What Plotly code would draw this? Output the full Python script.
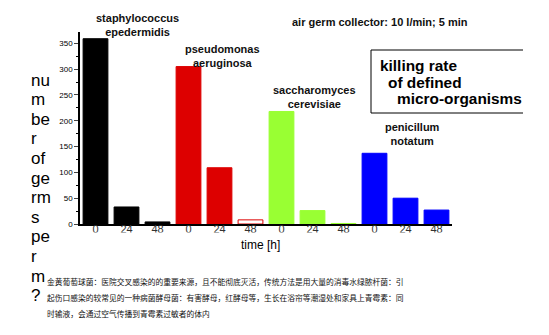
import plotly.graph_objects as go

organisms = ["staphylococcus<br>epedermidis", "pseudomonas<br>aeruginosa",
             "saccharomyces<br>cerevisiae", "penicillum<br>notatum"]
times = ["0", "24", "48"]
staph = [359, 33, 4]
pseudo = [305, 109, 8]
sacch = [218, 26, 1]
penic = [137, 50, 27]
group_colors = ["#000000", "#dd0000", "#99ff33", "#0000ff"]

series = [staph, pseudo, sacch, penic]
xs, ys, fills, lines, labels = [], [], [], [], []
k = 0
for gi, vals in enumerate(series):
    for ti, v in enumerate(vals):
        xs.append(k)
        ys.append(v)
        labels.append(times[ti])
        c = group_colors[gi]
        fills.append("#ffffff" if (gi == 1 and ti == 2) else c)
        lines.append(c)
        k += 1

fig = go.Figure()
fig.add_trace(go.Bar(x=xs, y=ys, marker=dict(color=fills, line=dict(color=lines, width=1)),
                     width=0.8, showlegend=False))

font = "Liberation Sans, Arial, sans-serif"
L, R, T, B = 80, 452, 32, 224
fig.update_layout(
    width=549, height=335, margin=dict(l=L, r=549 - R, t=T, b=335 - B),
    plot_bgcolor="white", paper_bgcolor="white",
    font=dict(family=font, color="#000"),
    xaxis=dict(range=[-0.5, 11.5], tickvals=xs, ticktext=labels, showline=True,
               linecolor="#000", linewidth=1.5, ticks="", showgrid=False, zeroline=False,
               tickfont=dict(size=11, color="#333"), ticklabelstandoff=-6, fixedrange=True),
    yaxis=dict(range=[0, 372], tickvals=[0, 50, 100, 150, 200, 250, 300, 350], showline=True,
               linecolor="#000", linewidth=1.5, ticks="outside", ticklen=4, tickwidth=1,
               showgrid=False, zeroline=False,
               tickfont=dict(size=8, color="#000", family="Arial Black, Liberation Sans, sans-serif"),
               minor=dict(tickvals=[25, 75, 125, 175, 225, 275, 325, 375], ticks="outside",
                          ticklen=2, tickcolor="#000"),
               fixedrange=True),
)


def px(xp, yp):
    return dict(x=(xp - L) / (R - L), y=1 - (yp - T) / (B - T), xref="paper", yref="paper")


ann = []
org_pos = [(137, 24.5), (222, 56.5), (314, 97), (412, 134)]
for (xp, yp), name in zip(org_pos, organisms):
    a = dict(text="<b>" + name + "</b>", showarrow=False, xanchor="center", yanchor="middle",
             font=dict(size=11, family=font, color="#111"), align="center")
    a.update(px(xp, yp))
    ann.append(a)

a = dict(text="<b>air germ collector: 10 l/min; 5 min</b>", showarrow=False, xanchor="left",
         yanchor="middle", font=dict(size=11, family=font, color="#111"))
a.update(px(290, 22))
ann.append(a)

box_lines = [("killing rate", 378, 65), ("of defined", 386, 82), ("micro-organisms", 395, 99)]
for t, xp, yp in box_lines:
    a = dict(text="<b>" + t + "</b>", showarrow=False, xanchor="left", yanchor="middle",
             font=dict(size=15.4, family=font, color="#000"))
    a.update(px(xp, yp))
    ann.append(a)

a = dict(text="time [h]", showarrow=False, xanchor="center", yanchor="middle",
         font=dict(size=12, family=font, color="#000"))
a.update(px(260, 245))
ann.append(a)

ylab = ["nu", "m", "be", "r", "of", "ge", "rm", "s", "pe", "r", "m", "?"]
for i, t in enumerate(ylab):
    a = dict(text=t, showarrow=False, xanchor="left", yanchor="middle",
             font=dict(size=17, family=font, color="#000"))
    a.update(px(29, 80 + i * 19.6))
    ann.append(a)

cn = ["金黄葡萄球菌：医院交叉感染的的重要来源，且不能彻底灭活，传统方法是用大量的消毒水绿脓杆菌：引",
      "起伤口感染的较常见的一种病菌酵母菌：有害酵母，红酵母等，生长在浴帘等潮湿处和家具上青霉素：同",
      "时输液，会通过空气传播到青霉素过敏者的体内"]
for i, t in enumerate(cn):
    a = dict(text=t, showarrow=False, xanchor="left", yanchor="middle",
             font=dict(size=7.75, family="Noto Sans CJK SC", color="#111"))
    a.update(px(45, 281 + i * 16))
    ann.append(a)

fig.update_layout(annotations=ann)

# box (top, left, bottom edges)
bx0, bx1, by0, by1 = 371, 523, 50, 113
for (x0, y0, x1, y1) in [(bx0, by0, bx1, by0), (bx0, by0, bx0, by1), (bx0, by1, bx1, by1)]:
    p0 = px(x0, y0)
    p1 = px(x1, y1)
    fig.add_shape(type="line", xref="paper", yref="paper", x0=p0["x"], y0=p0["y"],
                  x1=p1["x"], y1=p1["y"], line=dict(color="#000", width=1))

# mask lower part of tick labels (they appear clipped in the original)
m0 = px(L - 5, 232.5)
m1 = px(R + 10, 238.5)
fig.add_shape(type="rect", xref="paper", yref="paper", x0=m0["x"], x1=m1["x"],
              y0=m0["y"], y1=m1["y"], line=dict(width=0), fillcolor="white", layer="above")

fig.write_html("out.html")
